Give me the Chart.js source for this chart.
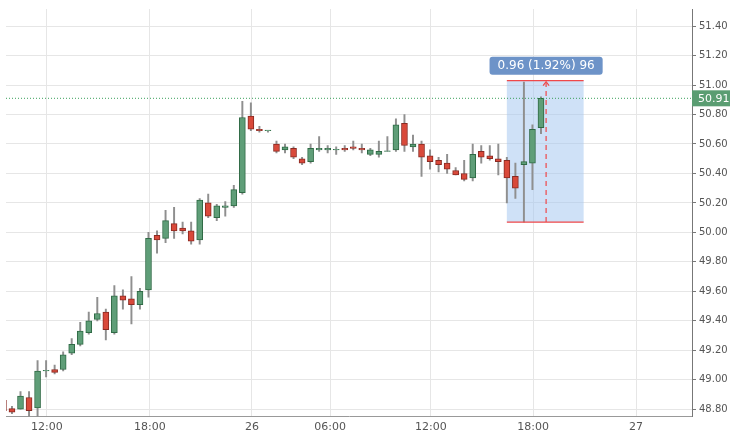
<!DOCTYPE html>
<html><head><meta charset="utf-8">
<script src="https://cdn.jsdelivr.net/npm/chart.js@4"></script>
<style>html,body{margin:0;padding:0;background:#fff}#w{width:730px;height:438px}</style>
</head><body><div id="w"><canvas id="c"></canvas></div>
<script>
const opens  = [48.86,48.805,48.80,48.88,48.81,49.06,49.07,49.07,49.18,49.24,49.32,49.41,49.46,49.32,49.57,49.55,49.51,49.61,49.98,49.96,50.06,50.03,50.01,49.95,50.20,50.10,50.17,50.18,50.27,50.79,50.70,50.69,50.60,50.56,50.57,50.50,50.48,50.56,50.56,50.56,50.57,50.58,50.57,50.53,50.53,50.55,50.56,50.74,50.58,50.60,50.52,50.49,50.47,50.42,50.40,50.37,50.55,50.52,50.50,50.49,50.38,50.46,50.47,50.71];
const closes = [48.79,48.78,48.89,48.79,49.06,49.06,49.05,49.17,49.24,49.33,49.40,49.45,49.34,49.57,49.54,49.51,49.60,49.96,49.95,50.08,50.01,50.01,49.94,50.22,50.11,50.18,50.18,50.29,50.78,50.70,50.69,50.69,50.55,50.58,50.51,50.47,50.57,50.57,50.57,50.56,50.56,50.57,50.56,50.56,50.55,50.55,50.73,50.59,50.60,50.51,50.48,50.46,50.43,50.39,50.36,50.53,50.51,50.50,50.48,50.37,50.30,50.48,50.70,50.91];
const highs  = [48.87,48.82,48.92,48.92,49.13,49.13,49.10,49.19,49.28,49.39,49.46,49.56,49.48,49.64,49.61,49.70,49.62,50.00,50.01,50.15,50.17,50.07,50.07,50.23,50.26,50.19,50.21,50.32,50.89,50.88,50.72,50.69,50.62,50.60,50.58,50.51,50.60,50.65,50.59,50.58,50.59,50.62,50.60,50.57,50.62,50.65,50.77,50.80,50.66,50.62,50.56,50.51,50.53,50.44,50.49,50.60,50.59,50.59,50.60,50.51,50.47,51.02,50.73,50.92];
const lows   = [48.78,48.77,48.80,48.73,48.75,49.02,49.04,49.06,49.17,49.23,49.31,49.40,49.27,49.31,49.48,49.38,49.48,49.56,49.86,49.93,49.96,49.99,49.92,49.92,50.10,50.08,50.11,50.17,50.26,50.69,50.68,50.68,50.54,50.54,50.50,50.46,50.47,50.55,50.54,50.53,50.55,50.56,50.54,50.52,50.51,50.55,50.55,50.55,50.55,50.38,50.43,50.41,50.40,50.39,50.35,50.35,50.47,50.49,50.39,50.20,50.23,50.07,50.29,50.67];
const tickPos    = [5.1,17.17,29.13,38.28,50.1,62.08,74.15];
const tickLabels = ['12:00','18:00','26','06:00','12:00','18:00','27'];
const lastPrice = 50.91;
const measure = {x0:59, x1:68, xArrow:63.6, low:50.07, high:51.03, text:'0.96 (1.92%) 96'};

const idx = opens.map((_,i)=>i);
const up = i => closes[i]>=opens[i];
const bodies = idx.map(i=>({x:i,y:[opens[i],closes[i]===opens[i]?closes[i]+0.004:closes[i]]}));
const wicks = idx.map(i=>({x:i,y:[lows[i],highs[i]]}));

const overlay = {
  id:'overlay',
  beforeDatasetsDraw(ch){
    const {ctx,scales:{x,y}}=ch;
    ctx.save();
    const L=x.getPixelForValue(measure.x0),R=x.getPixelForValue(measure.x1);
    const T=y.getPixelForValue(measure.high),B=y.getPixelForValue(measure.low);
    ctx.fillStyle='rgba(160,195,240,0.5)';ctx.fillRect(L,T,R-L,B-T);
    ctx.restore();
  },
  afterDatasetsDraw(ch){
    const {ctx,scales:{x,y},chartArea:a}=ch;
    ctx.save();
    const L=x.getPixelForValue(measure.x0),R=x.getPixelForValue(measure.x1);
    const T=y.getPixelForValue(measure.high),B=y.getPixelForValue(measure.low);
    ctx.strokeStyle='#f0484a';ctx.lineWidth=1.2;
    ctx.beginPath();ctx.moveTo(L,T);ctx.lineTo(R,T);ctx.moveTo(L,B);ctx.lineTo(R,B);ctx.stroke();
    const ax=x.getPixelForValue(measure.xArrow);
    ctx.setLineDash([5,4]);ctx.beginPath();ctx.moveTo(ax,B);ctx.lineTo(ax,T+2);ctx.stroke();
    ctx.setLineDash([]);ctx.beginPath();ctx.moveTo(ax-3,T+5);ctx.lineTo(ax,T+1);ctx.lineTo(ax+3,T+5);ctx.stroke();
    ctx.font='12px "DejaVu Sans"';
    const tw=ctx.measureText(measure.text).width+16;
    const lx=ax-tw/2, ly=T-24;
    ctx.fillStyle='#6d93c8';
    ctx.beginPath();ctx.roundRect(lx,ly,tw,18,3);ctx.fill();
    ctx.fillStyle='#fff';ctx.textAlign='center';ctx.textBaseline='middle';
    ctx.fillText(measure.text,ax,ly+9.5);
    const py=y.getPixelForValue(lastPrice);
    ctx.strokeStyle='#3aa05a';ctx.lineWidth=1;ctx.setLineDash([1,2]);
    ctx.beginPath();ctx.moveTo(a.left,py);ctx.lineTo(a.right,py);ctx.stroke();
    ctx.setLineDash([]);
    ctx.fillStyle='#5a9d72';ctx.fillRect(a.right,py-8,ch.width-a.right,16);
    ctx.fillStyle='#fff';ctx.textAlign='left';ctx.font='11px "DejaVu Sans"';
    ctx.fillText(lastPrice.toFixed(2),a.right+6,py+0.5);
    ctx.restore();
  }
};

new Chart(document.getElementById('c'),{
  type:'bar',
  data:{datasets:[
    {data:wicks,backgroundColor:'#8f8f8f',barThickness:1.3,order:2},
    {data:bodies,barThickness:6,borderSkipped:false,borderWidth:1,order:1,
     backgroundColor:idx.map(i=>up(i)?'#5f9e78':'#d9493a'),
     borderColor:idx.map(i=>up(i)?'#2f6a45':'#8a2a22')}
  ]},
  options:{
    responsive:true,maintainAspectRatio:false,animation:false,
    layout:{padding:{left:6,top:0,right:0,bottom:0}},
    plugins:{legend:{display:false},tooltip:{enabled:false}},
    datasets:{bar:{grouped:false}},
    scales:{
      x:{type:'linear',min:0.3,max:80.7,offset:false,
        grid:{color:'#e6e6e6',drawTicks:false,offset:false},border:{color:'#999'},
        afterBuildTicks:s=>{s.ticks=tickPos.map(v=>({value:v}));},
        ticks:{autoSkip:false,maxRotation:0,padding:4,color:'#555',font:{size:11,family:'DejaVu Sans'},
          callback:(v,i)=>tickLabels[i]}},
      y:{position:'right',min:48.749,max:51.516,
        afterFit:s=>{s.width=38;},
        grid:{color:'#e6e6e6',drawTicks:true,tickLength:4,tickColor:'#777'},border:{color:'#777'},
        afterBuildTicks:s=>{const t=[];for(let k=0;k<=13;k++)t.push({value:48.8+k*0.2});s.ticks=t;},
        ticks:{padding:3,color:'#555',font:{size:10,family:'DejaVu Sans'},callback:v=>v.toFixed(2)}}
    }
  },
  plugins:[overlay]
});
</script></body></html>
